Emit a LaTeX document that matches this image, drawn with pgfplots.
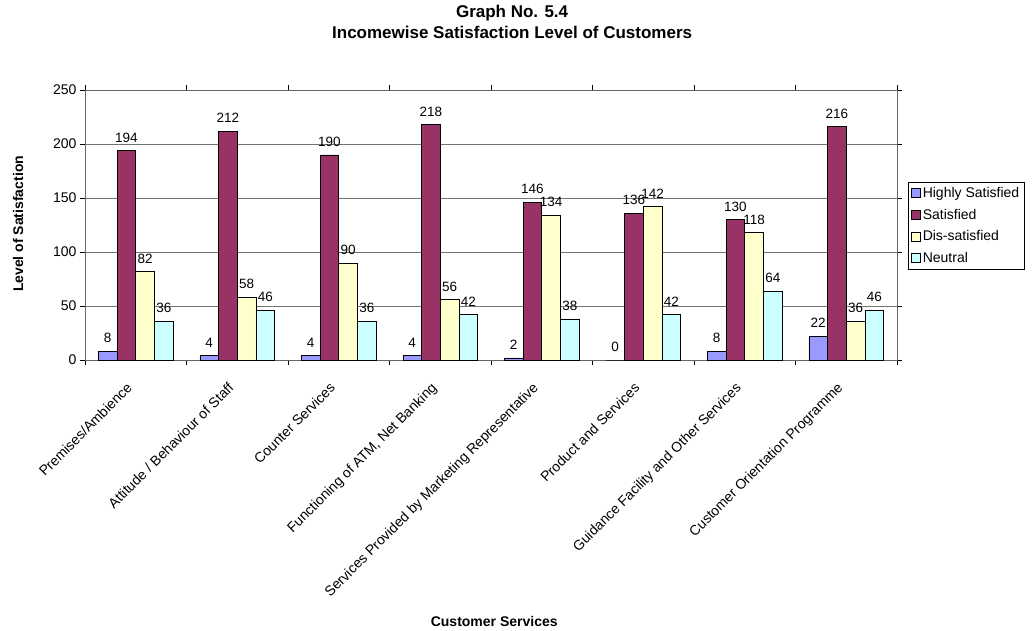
\documentclass[border=0pt]{standalone}
\usepackage{fontspec}
\setmainfont{Liberation Sans}
\usepackage{pgfplots}
\pgfplotsset{compat=1.18}
\definecolor{hsat}{HTML}{9999FF}
\definecolor{sat}{HTML}{993366}
\definecolor{dsat}{HTML}{FFFFCC}
\definecolor{neut}{HTML}{CCFFFF}
\begin{document}
\begin{tikzpicture}[x=1pt,y=1pt]
\useasboundingbox (0,0) rectangle (1034,-631);
\begin{axis}[
  at={(85pt,-360pt)}, anchor=south west,
  scale only axis, width=812pt, height=270pt,
  ybar=0pt, bar width=18.7pt,
  xmin=-0.5, xmax=7.5, ymin=0, ymax=250,
  xtick={0,...,7},
  xticklabels={Premises/Ambience, Attitude / Behaviour of Staff, Counter Services, {Functioning of ATM, Net Banking}, Services Provided by Marketing Representative, Product and Services, Guidance Facility and Other Services, Customer Orientation Programme},
  major x tick style={draw=none},
  minor xtick={-0.5,0.5,...,7.5},
  minor tick length=5pt, major tick length=5pt,
  tick align=outside, tick style={black, line width=0.6pt},
  ytick={0,50,...,250},
  ymajorgrids, grid style={gray!90!black, line width=0.8pt},
  axis line style={gray!80!black, line width=0.8pt},
  xticklabel style={xshift=-10pt, yshift=-15pt, rotate=45, anchor=north east, font=\fontsize{14}{16}\selectfont, inner sep=1pt},
  yticklabel style={font=\fontsize{14}{16}\selectfont},
  /pgf/number format/assume math mode=true,
  nodes near coords,
  nodes near coords style={font=\fontsize{13.5}{15}\selectfont, black, inner sep=2pt, yshift=6pt},
  every axis plot/.append style={draw=black, line width=0.6pt},
  legend style={at={(1.0135,0.659)}, anchor=north west, draw=black, line width=0.6pt,
    font=\fontsize{14}{15}\selectfont, legend cell align=left, inner sep=3pt, row sep=6pt,
    /tikz/every even column/.append style={column sep=2pt}},
  legend image code/.code={\draw[#1, line width=0.5pt] (0pt,-4.5pt) rectangle (9pt,4.5pt);},
  title={Graph No. 5.4\\Incomewise Satisfaction Level of Customers},
  title style={at={(0.526,1.23)}, anchor=center, align=center, font=\bfseries\fontsize{17}{21}\selectfont},
  xlabel={Customer Services},
  xlabel style={at={(0.504,-0.967)}, anchor=center, font=\bfseries\fontsize{14}{16}\selectfont},
  ylabel={Level of Satisfaction},
  ylabel style={at={(-0.0825,0.504)}, anchor=center, font=\bfseries\fontsize{14}{16}\selectfont},
]
\addplot[fill=hsat] coordinates {(0,8) (1,4) (2,4) (3,4) (4,2) (5,0) (6,8) (7,22)};
\addplot[fill=sat] coordinates {(0,194) (1,212) (2,190) (3,218) (4,146) (5,136) (6,130) (7,216)};
\addplot[fill=dsat] coordinates {(0,82) (1,58) (2,90) (3,56) (4,134) (5,142) (6,118) (7,36)};
\addplot[fill=neut] coordinates {(0,36) (1,46) (2,36) (3,42) (4,38) (5,42) (6,64) (7,46)};
\legend{Highly Satisfied, Satisfied, Dis-satisfied, Neutral}
\end{axis}
\end{tikzpicture}
\end{document}
